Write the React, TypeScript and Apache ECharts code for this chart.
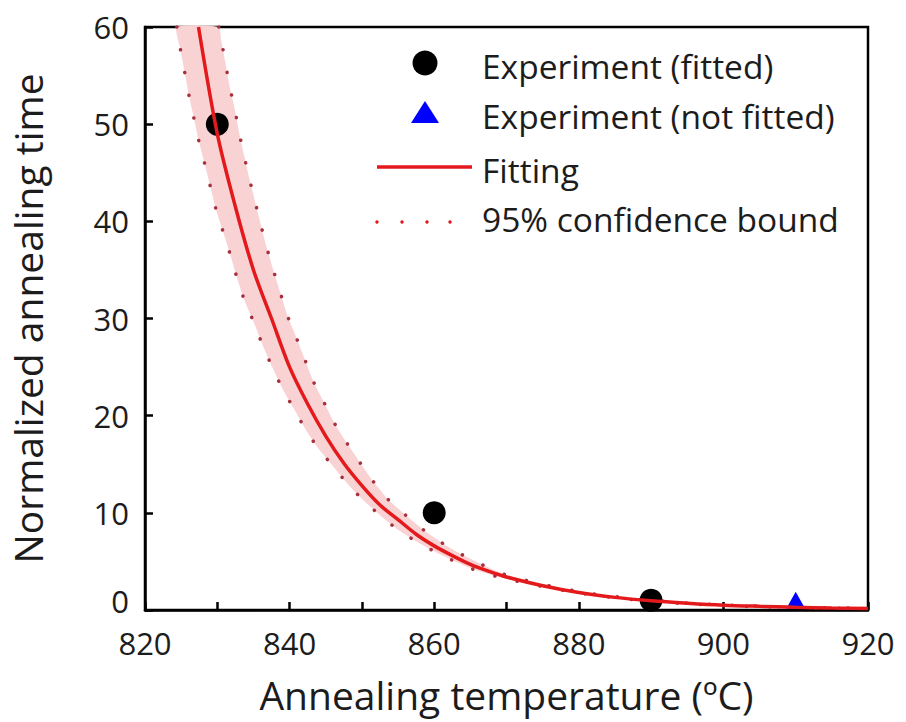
import React, { useEffect, useRef } from "react";
import * as echarts from "echarts";

// Axis ticks
const xTicks = [820, 840, 860, 880, 900, 920];
const yTicks = [0, 10, 20, 30, 40, 50, 60];

// Experimental points
const fittedT = [830, 860, 890];
const fittedV = [50, 10, 1];
const notFittedT = [910];
const notFittedV = [1.0];

// Fitting curve
const fitT = [827.4, 830, 832.5, 835, 837.5, 840, 842.5, 845, 847.5, 850, 852.5, 855, 857.5, 860, 862.5, 865, 867.5, 870, 875, 880, 885, 890, 895, 900, 905, 910, 915, 920];
const fitV = [60, 49, 41.5, 35, 30, 25, 21.2, 17.9, 15.1, 12.8, 10.8, 9.3, 7.8, 6.6, 5.6, 4.7, 4.0, 3.4, 2.5, 1.8, 1.3, 0.95, 0.7, 0.5, 0.38, 0.28, 0.2, 0.15];

// 95% confidence bounds
const lowerT = [824.4, 824.9, 825.5, 826.1, 826.8, 827.5, 828.3, 829.1, 829.9, 830.9, 831.9, 832.8, 833.8, 835.1, 836.3, 837.6, 839.0, 840.6, 842.2, 844.0, 845.9, 848.0, 850.2, 852.6, 855.1, 857.9, 860.9, 865, 870, 880, 890, 900, 910, 920];
const lowerV = [60, 57.7, 55.3, 52.9, 50.5, 48.1, 45.8, 43.4, 41.0, 38.7, 36.3, 34.0, 31.8, 29.5, 27.2, 25.0, 22.8, 20.7, 18.6, 16.6, 14.9, 13.0, 11.3, 9.7, 8.2, 6.9, 5.7, 4.3, 3.2, 1.75, 0.9, 0.45, 0.25, 0.14];
const upperT = [830.2, 830.5, 831.1, 831.7, 832.4, 833.0, 833.7, 834.4, 835.2, 836.0, 836.8, 837.7, 838.7, 839.7, 840.9, 842.1, 843.3, 844.8, 846.3, 848.0, 849.8, 851.5, 853.6, 856.0, 858.6, 861.3, 864.1, 870, 880, 890, 900, 910, 920];
const upperV = [60, 58.8, 56.4, 53.9, 51.6, 49.2, 46.8, 44.5, 42.1, 39.7, 37.4, 35.1, 32.7, 30.3, 28.1, 25.8, 23.5, 21.3, 19.1, 17.1, 15.1, 13.3, 11.4, 9.8, 8.2, 6.8, 5.6, 3.6, 1.9, 1.0, 0.52, 0.3, 0.16];

const legendLabels = ["Experiment (fitted)", "Experiment (not fitted)", "Fitting", "95% confidence bound"];

const FONT = "'Open Sans'";
const TXT = "#1c1c1c";
const RED = "#e3191c";
const BAND = "#f9d2d4";
const DOT = "#a8303c";

const zip = (a: number[], b: number[]) => a.map((v, i) => [v, b[i]]);

export default function App() {
  const ref = useRef<HTMLDivElement>(null);
  useEffect(() => {
    const chart = echarts.init(ref.current!, null, { renderer: "svg" });
    const upper = zip(upperT, upperV);
    const lower = zip(lowerT, lowerV);
    const option: any = {
      animation: false,
      backgroundColor: "#fff",
      grid: { left: 143, top: 27, right: 38, bottom: 112, show: true, borderColor: "#000", borderWidth: 2.5, backgroundColor: "transparent" },
      xAxis: {
        type: "value",
        min: xTicks[0],
        max: xTicks[xTicks.length - 1],
        interval: 20,
        name: "Annealing temperature (\u00BAC)",
        nameLocation: "middle",
        nameGap: 65,
        nameTextStyle: { fontFamily: FONT, fontSize: 39, color: TXT },
        axisLine: { lineStyle: { color: "#000", width: 2.5 } },
        axisTick: { inside: true, length: 8, lineStyle: { color: "#000", width: 2.5 } },
        minorTick: { show: true, splitNumber: 2, length: 8, lineStyle: { color: "#000", width: 2.5 } },
        axisLabel: { fontFamily: FONT, fontSize: 31, color: TXT, margin: 17 },
        splitLine: { show: false },
      },
      yAxis: {
        type: "value",
        min: yTicks[0],
        max: yTicks[yTicks.length - 1],
        interval: 10,
        name: "Normalized annealing time",
        nameLocation: "middle",
        nameGap: 98,
        nameTextStyle: { fontFamily: FONT, fontSize: 39, color: TXT },
        axisLine: { lineStyle: { color: "#000", width: 2.5 } },
        axisTick: { inside: true, length: 8, lineStyle: { color: "#000", width: 2.5 } },
        axisLabel: {
          fontFamily: FONT,
          fontSize: 31,
          color: TXT,
          margin: 16,
          formatter: (v: number) => (v === 0 ? "{z|0}" : String(v)),
          rich: { z: { fontFamily: FONT, fontSize: 31, color: TXT, padding: [0, 0, 18, 0] } },
        },
        splitLine: { show: false },
      },
      series: [
        {
          type: "custom",
          name: "band",
          data: [[820, 0]],
          silent: true,
          z: 1,
          renderItem: (params: any, api: any) => {
            const pts = upper.map((p) => api.coord(p)).concat(lower.slice().reverse().map((p) => api.coord(p)));
            return { type: "polygon", shape: { points: pts, smooth: 0.2 }, style: { fill: BAND } };
          },
        },
        {
          type: "line",
          data: upper,
          showSymbol: false,
          smooth: 0.3,
          z: 2,
          lineStyle: { color: DOT, width: 3.5, type: [0.1, 23], cap: "round" },
        },
        {
          type: "line",
          data: lower,
          showSymbol: false,
          smooth: 0.3,
          z: 2,
          lineStyle: { color: DOT, width: 3.5, type: [0.1, 23], cap: "round" },
        },
        {
          type: "scatter",
          data: zip(fittedT, fittedV),
          symbol: "circle",
          symbolSize: 23,
          itemStyle: { color: "#000", opacity: 1 },
          z: 3,
        },
        {
          type: "scatter",
          data: zip(notFittedT, notFittedV),
          symbol: "triangle",
          symbolSize: [19, 17],
          itemStyle: { color: "#0000ff", opacity: 1 },
          z: 3,
        },
        {
          type: "line",
          data: zip(fitT, fitV),
          showSymbol: false,
          smooth: 0.3,
          z: 4,
          lineStyle: { color: RED, width: 3.5 },
        },
      ],
      graphic: [
        { type: "circle", shape: { cx: 425, cy: 63, r: 12.5 }, style: { fill: "#000" } },
        { type: "polygon", shape: { points: [[411, 123], [439, 123], [425, 101]] }, style: { fill: "#0000ff" } },
        { type: "line", shape: { x1: 377, y1: 167, x2: 472, y2: 167 }, style: { stroke: RED, lineWidth: 3.5 } },
        { type: "circle", shape: { cx: 377, cy: 222, r: 1.7 }, style: { fill: RED } },
        { type: "circle", shape: { cx: 402, cy: 222, r: 1.7 }, style: { fill: RED } },
        { type: "circle", shape: { cx: 427, cy: 222, r: 1.7 }, style: { fill: RED } },
        { type: "circle", shape: { cx: 450, cy: 222, r: 1.7 }, style: { fill: RED } },
        ...legendLabels.map((t, i) => ({
          type: "text",
          x: 482,
          y: [66, 116, 170, 219][i],
          style: { text: t, fontFamily: FONT, fontSize: 33.5, fill: TXT, verticalAlign: "middle", align: "left" },
        })),
      ],
    };
    chart.setOption(option);
    return () => chart.dispose();
  }, []);
  return <div ref={ref} style={{ position: "fixed", left: 0, top: 0, width: 906, height: 722, background: "#fff" }} />;
}
